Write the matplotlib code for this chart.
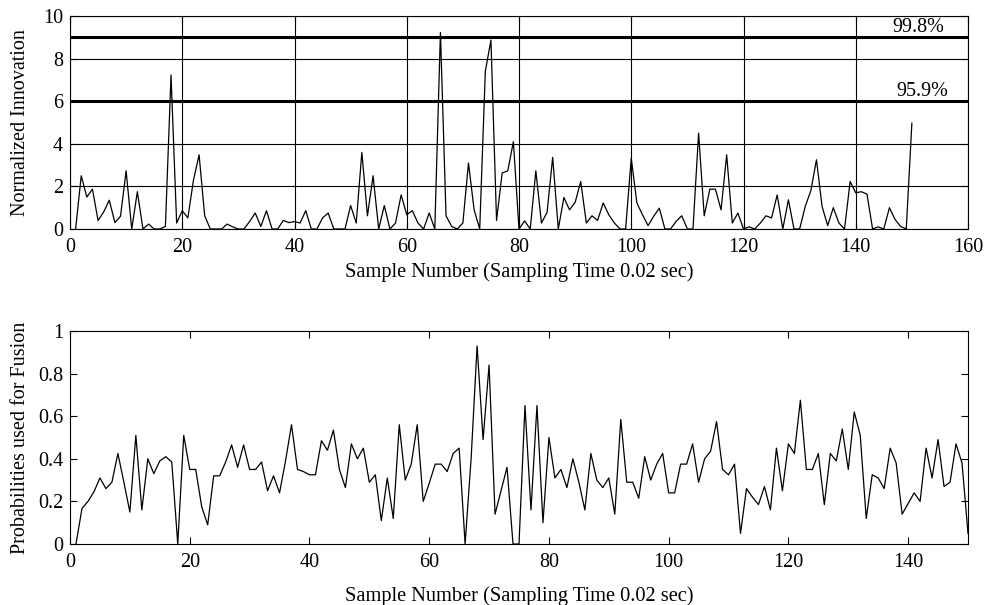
import numpy as np
import matplotlib
matplotlib.use("Agg")
import matplotlib.pyplot as plt

plt.rcParams['font.family'] = ['Liberation Serif', 'DejaVu Serif']
plt.rcParams['font.size'] = 14

# sample index 1..150
samples = np.arange(1, 151)

# normalized innovation (top)
innovation = [
    0, 2.5, 1.5, 1.87, 0.4, 0.8, 1.35, 0.3, 0.6, 2.73,
    0, 1.75, 0, 0.23, 0, 0, 0.12, 7.23, 0.28, 0.86,
    0.52, 2.3, 3.48, 0.62, 0, 0, 0, 0.23, 0.1, 0,
    0, 0.35, 0.75, 0.12, 0.86, 0, 0, 0.4, 0.3, 0.35,
    0.28, 0.86, 0, 0, 0.52, 0.75, 0, 0, 0, 1.1,
    0.28, 3.6, 0.62, 2.5, 0, 1.1, 0, 0.28, 1.6, 0.67,
    0.86, 0.28, 0, 0.75, 0, 9.23, 0.62, 0.12, 0, 0.28,
    3.1, 0.9, 0, 7.4, 8.87, 0.4, 2.63, 2.73, 4.1, 0,
    0.38, 0, 2.73, 0.28, 0.78, 3.36, 0, 1.48, 0.9, 1.25,
    2.23, 0.28, 0.62, 0.4, 1.22, 0.67, 0.28, 0, 0, 3.33,
    1.22, 0.67, 0.16, 0.6, 0.98, 0, 0, 0.36, 0.62, 0,
    0, 4.5, 0.62, 1.87, 1.87, 0.9, 3.48, 0.28, 0.75, 0,
    0.1, 0, 0.28, 0.62, 0.52, 1.6, 0, 1.37, 0, 0,
    1.06, 1.8, 3.25, 1.06, 0.16, 1.0, 0.28, 0, 2.23, 1.7,
    1.75, 1.64, 0, 0.1, 0, 1.0, 0.45, 0.12, 0, 4.97,
]

# probabilities used for fusion (bottom)
probability = [
    0, 0.167, 0.2, 0.245, 0.31, 0.26, 0.29, 0.425, 0.29, 0.15,
    0.51, 0.16, 0.4, 0.33, 0.39, 0.41, 0.385, 0, 0.51, 0.35,
    0.35, 0.175, 0.09, 0.32, 0.32, 0.385, 0.465, 0.36, 0.465, 0.35,
    0.35, 0.385, 0.25, 0.32, 0.24, 0.39, 0.56, 0.35, 0.34, 0.325,
    0.325, 0.485, 0.44, 0.535, 0.35, 0.265, 0.47, 0.4, 0.45, 0.29,
    0.325, 0.11, 0.31, 0.12, 0.56, 0.3, 0.375, 0.56, 0.2, 0.285,
    0.375, 0.375, 0.34, 0.425, 0.45, 0, 0.4, 0.93, 0.49, 0.84,
    0.14, 0.25, 0.36, 0, 0, 0.65, 0.16, 0.65, 0.1, 0.5,
    0.31, 0.35, 0.265, 0.4, 0.29, 0.16, 0.425, 0.3, 0.265, 0.31,
    0.14, 0.585, 0.29, 0.29, 0.215, 0.41, 0.3, 0.375, 0.425, 0.24,
    0.24, 0.375, 0.375, 0.47, 0.29, 0.4, 0.435, 0.575, 0.35, 0.325,
    0.375, 0.05, 0.26, 0.22, 0.185, 0.27, 0.16, 0.45, 0.25, 0.47,
    0.425, 0.675, 0.35, 0.35, 0.425, 0.185, 0.425, 0.39, 0.54, 0.35,
    0.62, 0.51, 0.12, 0.325, 0.31, 0.26, 0.45, 0.38, 0.14, 0.19,
    0.24, 0.2, 0.45, 0.31, 0.49, 0.27, 0.29, 0.47, 0.38, 0.05,
]

thresholds = [9.0, 6.0]
threshold_labels = ['99.8%', '95.9%']

xlabel = 'Sample Number (Sampling Time 0.02 sec)'

W, H = 986, 605
fig = plt.figure(figsize=(W / 100, H / 100), dpi=100)

def px_axes(left, top, right, bottom):
    return fig.add_axes([left / W, 1 - bottom / H, (right - left) / W, (bottom - top) / H])

# ---- top: normalized innovation
ax1 = px_axes(70, 16, 968, 229)
ax1.plot(samples, innovation, color='black', lw=0.9)
ax1.axhline(thresholds[0], color='black', lw=2.2)
ax1.axhline(thresholds[1], color='black', lw=2.2)
ax1.text(146.5, thresholds[0] + 0.02, threshold_labels[0], ha='left', va='bottom', fontsize=14.5)
ax1.text(147.3, thresholds[1] + 0.02, threshold_labels[1], ha='left', va='bottom', fontsize=14.5)
ax1.set_xlim(0, 160)
ax1.set_ylim(0, 10)
ax1.set_xticks(np.arange(0, 161, 20))
ax1.set_yticks(np.arange(0, 11, 2))
ax1.grid(True, color='black', lw=0.8)
ax1.set_xlabel(xlabel, fontsize=14.7)
ax1.set_ylabel('Normalized Innovation', fontsize=14.5)
ax1.xaxis.set_label_coords(0.5, -0.155)

# ---- bottom: probabilities
ax2 = px_axes(70, 331, 968, 544)
ax2.plot(samples, probability, color='black', lw=0.9)
ax2.set_xlim(0, 150)
ax2.set_ylim(0, 1)
ax2.set_xticks(np.arange(0, 141, 20))
ax2.set_yticks([0, 0.2, 0.4, 0.6, 0.8, 1])
ax2.set_yticklabels(['0', '0.2', '0.4', '0.6', '0.8', '1'])
ax2.set_xlabel(xlabel, fontsize=14.7)
ax2.set_ylabel('Probabilities used for Fusion', fontsize=14.5)
ax2.xaxis.set_label_coords(0.5, -0.2)

for ax in (ax1, ax2):
    ax.tick_params(direction='in', top=True, right=True, length=5, width=0.8, labelsize=14.5, pad=5)
    ax.tick_params(axis='x', pad=6.5)
    for sp in ax.spines.values():
        sp.set_linewidth(0.8)
    ax.yaxis.set_label_coords(-0.044, 0.5)

fig.savefig('out.png', dpi=100)
